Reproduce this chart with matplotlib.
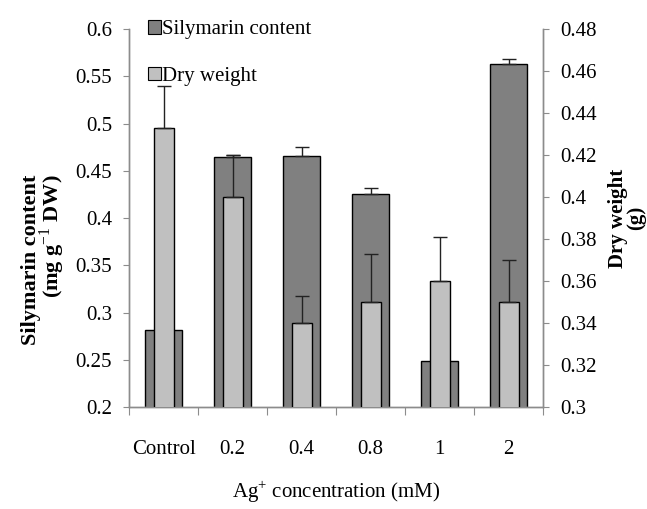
import numpy as np
import matplotlib
matplotlib.use("Agg")
import matplotlib.pyplot as plt
from matplotlib.patches import Patch


CATEGORIES = ["Control", "0.2", "0.4", "0.8", "1", "2"]

SILYMARIN = [0.281, 0.465, 0.466, 0.425, 0.249, 0.563]
SILYMARIN_ERR = [0.003, 0.002, 0.009, 0.007, 0.003, 0.005]

DRY_WEIGHT = [0.433, 0.400, 0.340, 0.350, 0.360, 0.350]
DRY_WEIGHT_ERR = [0.020, 0.020, 0.013, 0.023, 0.021, 0.020]

DARK = "#808080"
LIGHT = "#c0c0c0"
SPINE = "#8c8c8c"
FS = 15

plt.rcParams["font.family"] = ["Liberation Serif", "DejaVu Serif"]
plt.rcParams["mathtext.fontset"] = "custom"
plt.rcParams["mathtext.rm"] = "Liberation Serif"
plt.rcParams["mathtext.bf"] = "Liberation Serif:bold"

fig = plt.figure(figsize=(6.47, 5.09), dpi=100)
ax = fig.add_axes([0.1994, 0.2004, 0.64, 0.7426])
ax2 = ax.twinx()

x = np.arange(len(CATEGORIES))

ax.bar(x, SILYMARIN, width=0.54, color=DARK, edgecolor="black", linewidth=1.0, zorder=2)
ax.errorbar(x, SILYMARIN, yerr=[np.zeros(len(x)), SILYMARIN_ERR], fmt="none",
            ecolor="#222222", elinewidth=1.0, capsize=5, capthick=1.0, zorder=3)

ax2.bar(x, DRY_WEIGHT, width=0.29, color=LIGHT, edgecolor="black", linewidth=1.0, zorder=4)
ax2.errorbar(x, DRY_WEIGHT, yerr=[np.zeros(len(x)), DRY_WEIGHT_ERR], fmt="none",
             ecolor="#222222", elinewidth=1.0, capsize=5, capthick=1.0, zorder=5)

ax.set_xlim(-0.5, len(x) - 0.5)
ax.set_ylim(0.2, 0.6)
ax.set_yticks(np.arange(0.2, 0.601, 0.05))
ax.set_yticklabels(["0.2", "0.25", "0.3", "0.35", "0.4", "0.45", "0.5", "0.55", "0.6"])
ax2.set_ylim(0.3, 0.48)
ax2.set_yticks(np.arange(0.3, 0.481, 0.02))
ax2.set_yticklabels(["0.3", "0.32", "0.34", "0.36", "0.38", "0.4", "0.42", "0.44", "0.46", "0.48"])

# category labels sit between the boundary ticks
ax.set_xticks(np.arange(-0.5, len(x), 1.0))
ax.set_xticklabels([])
ax.set_xticks(x, minor=True)
ax.set_xticklabels(CATEGORIES, minor=True)
ax.tick_params(axis="x", which="minor", length=0, pad=24, labelsize=FS)
ax.tick_params(axis="x", which="major", length=5.8, color=SPINE, direction="out")
ax.tick_params(axis="y", length=4.3, color=SPINE, labelsize=FS, pad=8)
ax2.tick_params(axis="y", length=4.3, color=SPINE, labelsize=FS, pad=8)

for a in (ax, ax2):
    a.spines["top"].set_visible(False)
    for s in ("left", "right", "bottom"):
        a.spines[s].set_color(SPINE)
        a.spines[s].set_linewidth(1.0)

ax.set_ylabel("Silymarin content\n(mg g$^{-1}$ DW)", fontsize=16, fontweight="bold",
              linespacing=0.85, labelpad=6, y=0.39, multialignment="right")
ax2.set_ylabel("Dry weight\n(g)", fontsize=FS, fontweight="bold", rotation=90,
               linespacing=0.85, labelpad=8, y=0.5)
ax.set_xlabel("Ag$^{+}$ concentration (mM)", fontsize=FS, labelpad=14)

handles = [Patch(facecolor=DARK, edgecolor="black", linewidth=0.8),
           Patch(facecolor=LIGHT, edgecolor="black", linewidth=0.8)]
ax2.legend(handles, ["Silymarin content", "Dry weight"], loc="upper left",
           bbox_to_anchor=(0.025, 1.045), frameon=False, fontsize=FS,
           handlelength=0.63, handleheight=0.63, handletextpad=0.08,
           labelspacing=1.3, borderaxespad=0)

fig.savefig("out.png", dpi=100)
